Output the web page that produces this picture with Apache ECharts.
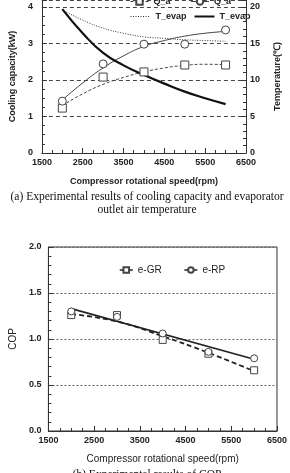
<!DOCTYPE html>
<html>
<head>
<meta charset="utf-8">
<title>Cooling capacity and COP</title>
<script src="https://cdn.jsdelivr.net/npm/echarts@6/dist/echarts.min.js"></script>
<style>
    html, body { margin: 0; padding: 0; width: 100%; height: 100%; background: #fff; overflow: hidden; }
    #chart { width: 290px; height: 473px; }
</style>
</head>
<body>
<div id="chart"></div>
<script type="text/javascript">
    // measured points (a)
    var capRpm = [2000, 3000, 4000, 5000, 6000];
    var capSquare = [1.23, 2.08, 2.22, 2.41, 2.41];
    var capCircle = [1.42, 2.44, 2.98, 2.98, 3.37];
    // fitted curves (a)
    var fitRpm = [2000, 2500, 3000, 3500, 4000, 4500, 5000, 5500, 6000];
    var capSquareFit = [1.30, 1.62, 1.88, 2.07, 2.22, 2.33, 2.40, 2.43, 2.42];
    var capCircleFit = [1.45, 1.92, 2.33, 2.66, 2.92, 3.08, 3.20, 3.28, 3.33];
    var tempDottedFit = [19.6, 18.2, 17.1, 16.4, 15.9, 15.7, 15.5, 15.4, 15.3];
    var tempSolidFit = [19.7, 16.4, 13.7, 12.0, 10.7, 9.5, 8.4, 7.5, 6.7];

    // COP (b)
    var copRpm = [2000, 3000, 4000, 5000, 6000];
    var copGR = [1.26, 1.26, 0.99, 0.84, 0.66];
    var copRP = [1.30, 1.24, 1.06, 0.86, 0.79];
    var copGRFit = [1.27, 1.19, 1.03, 0.85, 0.65];
    var copRPFitRpm = [2000, 6000];
    var copRPFit = [1.33, 0.78];

    var xTicks = { min: 1500, max: 6500, interval: 1000 };

    function pairs(xs, ys) {
        return xs.map(function (x, i) { return [x, ys[i]]; });
    }

    var tickFont = { fontFamily: 'Liberation Sans', fontSize: 9, fontWeight: 'bold', color: '#222' };
    var ink = '#444';

    function plain(v) { return String(v); }

    function valueAxis(extra, labelExtra) {
        var base = {
            type: 'value',
            axisLine: { show: true, lineStyle: { color: '#333', width: 1 } },
            axisTick: { show: true, inside: true, length: 5, lineStyle: { color: '#333' } },
            minorTick: { show: true, splitNumber: 4, length: 3, lineStyle: { color: '#333' } },
            axisLabel: Object.assign({ margin: 6, showMaxLabel: false, formatter: plain }, tickFont, labelExtra || {}),
            splitLine: { show: false }
        };
        return Object.assign(base, extra);
    }

    var chart = echarts.init(document.getElementById('chart'), null, { renderer: 'canvas' });

    var option = {
        animation: false,
        backgroundColor: '#fff',
        title: [
            {
                text: '(a) Experimental results of cooling capacity and evaporator\noutlet air temperature',
                left: 147, top: 190, textAlign: 'center', padding: 0,
                textStyle: { fontFamily: 'Liberation Serif', fontSize: 11.5, fontWeight: 'normal', lineHeight: 13, color: '#111' }
            },
            {
                text: '(b) Experimental results of COP',
                left: 147, top: 469, textAlign: 'center', padding: 0,
                textStyle: { fontFamily: 'Liberation Serif', fontSize: 11.5, fontWeight: 'normal', color: '#111' }
            }
        ],
        legend: [
            {
                left: 130, top: -3, padding: 0, itemWidth: 18, itemHeight: 8, itemGap: 20,
                textStyle: { fontFamily: 'Liberation Sans', fontSize: 9, fontWeight: 'bold', color: '#222' },
                data: [
                    { name: 'Q_a', lineStyle: { width: 1, type: [3, 2], color: ink } },
                    { name: 'Q_a ', lineStyle: { width: 1, type: 'solid', color: ink } }
                ]
            },
            {
                left: 130, top: 12, padding: 0, itemWidth: 20, itemHeight: 8, itemGap: 7,
                textStyle: { fontFamily: 'Liberation Sans', fontSize: 9, fontWeight: 'bold', color: '#222' },
                data: [
                    { name: 'T_evap', itemStyle: { opacity: 0 }, lineStyle: { width: 1, type: [1, 1.5], color: '#333' } },
                    { name: 'T_evap ', itemStyle: { opacity: 0 }, lineStyle: { width: 2, type: 'solid', color: '#111' } }
                ]
            },
            {
                left: 119, top: 265, padding: 0, itemWidth: 13, itemHeight: 7, itemGap: 22,
                textStyle: { fontFamily: 'Liberation Sans', fontSize: 10, color: '#222' },
                data: [
                    { name: 'e-GR', lineStyle: { width: 1.5, type: 'solid', color: '#222' } },
                    { name: 'e-RP', lineStyle: { width: 1.5, type: 'solid', color: '#222' } }
                ]
            }
        ],
        grid: [
            { left: 32, right: 31, top: 0, bottom: 320 },
            { left: 40, right: 13, top: 247, bottom: 42, show: true, borderColor: '#333', borderWidth: 1 }
        ],
        xAxis: [
            valueAxis(Object.assign({
                gridIndex: 0,
                name: 'Compressor rotational speed(rpm)', nameLocation: 'middle', nameGap: 24,
                nameTextStyle: { fontFamily: 'Liberation Sans', fontSize: 9, fontWeight: 'bold', color: '#222' }
            }, xTicks), { margin: 5, showMaxLabel: true }),
            valueAxis(Object.assign({
                gridIndex: 1,
                name: 'Compressor rotational speed(rpm)', nameLocation: 'middle', nameGap: 23,
                nameTextStyle: { fontFamily: 'Liberation Sans', fontSize: 10, color: '#222' }
            }, xTicks), { margin: 5, showMaxLabel: true })
        ],
        yAxis: [
            valueAxis({
                gridIndex: 0, min: 0, max: 4.19, interval: 1,
                name: 'Cooling capacity(kW)', nameLocation: 'middle', nameGap: 21, nameRotate: 90,
                nameTextStyle: { fontFamily: 'Liberation Sans', fontSize: 9, fontWeight: 'bold', color: '#222' },
                splitLine: { show: true, lineStyle: { color: '#444', width: 1, type: [4, 3] } }
            }, { margin: 9 }),
            valueAxis({
                gridIndex: 0, position: 'right', min: 0, max: 20.95, interval: 5,
                name: 'Temperature(\u2103)', nameLocation: 'middle', nameGap: 27, nameRotate: 90,
                nameTextStyle: { fontFamily: 'Liberation Sans', fontSize: 9, fontWeight: 'bold', color: '#222' },
                minorTick: { show: true, splitNumber: 5, length: 3, lineStyle: { color: '#333' } }
            }, { margin: 4 }),
            valueAxis({
                gridIndex: 1, min: 0, max: 2, interval: 0.5,
                name: 'COP', nameLocation: 'middle', nameGap: 29, nameRotate: 90,
                nameTextStyle: { fontFamily: 'Liberation Sans', fontSize: 10, color: '#222' },
                minorTick: { show: true, splitNumber: 5, length: 3, lineStyle: { color: '#333' } },
                splitLine: { show: true, lineStyle: { color: '#666', width: 1, type: [2, 2] } }
            }, { margin: 7, showMaxLabel: true, formatter: function (v) { return v.toFixed(1); } })
        ],
        series: [
            // (a) measured markers (listed first so the legend picks their symbols)
            {
                name: 'Q_a', type: 'line', xAxisIndex: 0, yAxisIndex: 0, symbol: 'rect', symbolSize: 8,
                data: pairs(capRpm, capSquare), lineStyle: { width: 0 },
                itemStyle: { color: '#fff', borderColor: ink, borderWidth: 1 }, z: 5
            },
            {
                name: 'Q_a ', type: 'line', xAxisIndex: 0, yAxisIndex: 0, symbol: 'circle', symbolSize: 8,
                data: pairs(capRpm, capCircle), lineStyle: { width: 0 },
                itemStyle: { color: '#fff', borderColor: ink, borderWidth: 1 }, z: 5
            },
            // (a) fitted curves
            {
                name: 'Q_a', type: 'line', xAxisIndex: 0, yAxisIndex: 0, smooth: true, symbol: 'none',
                data: pairs(fitRpm, capSquareFit), lineStyle: { color: ink, width: 1, type: [3, 2] }, itemStyle: { color: ink }
            },
            {
                name: 'Q_a ', type: 'line', xAxisIndex: 0, yAxisIndex: 0, smooth: true, symbol: 'none',
                data: pairs(fitRpm, capCircleFit), lineStyle: { color: ink, width: 1 }, itemStyle: { color: ink }
            },
            {
                name: 'T_evap', type: 'line', xAxisIndex: 0, yAxisIndex: 1, smooth: true, symbol: 'none',
                data: pairs(fitRpm, tempDottedFit), lineStyle: { color: '#333', width: 1, type: [1, 1.5] }, itemStyle: { color: '#333' }
            },
            {
                name: 'T_evap ', type: 'line', xAxisIndex: 0, yAxisIndex: 1, smooth: true, symbol: 'none',
                data: pairs(fitRpm, tempSolidFit), lineStyle: { color: '#111', width: 2.2 }, itemStyle: { color: '#111' }
            },
            // (b) measured markers
            {
                name: 'e-GR', type: 'line', xAxisIndex: 1, yAxisIndex: 2, symbol: 'rect', symbolSize: 7,
                data: pairs(copRpm, copGR), lineStyle: { width: 0 },
                itemStyle: { color: '#fff', borderColor: ink, borderWidth: 1 }, z: 5
            },
            {
                name: 'e-RP', type: 'line', xAxisIndex: 1, yAxisIndex: 2, symbol: 'circle', symbolSize: 7,
                data: pairs(copRpm, copRP), lineStyle: { width: 0 },
                itemStyle: { color: '#fff', borderColor: ink, borderWidth: 1 }, z: 5
            },
            // (b) fitted lines
            {
                name: 'e-GR', type: 'line', xAxisIndex: 1, yAxisIndex: 2, smooth: true, symbol: 'none',
                data: pairs(copRpm, copGRFit), lineStyle: { color: '#222', width: 1.8, type: [5, 3] }, itemStyle: { color: '#222' }
            },
            {
                name: 'e-RP', type: 'line', xAxisIndex: 1, yAxisIndex: 2, symbol: 'none',
                data: pairs(copRPFitRpm, copRPFit), lineStyle: { color: '#222', width: 1.6 }, itemStyle: { color: '#222' }
            }
        ]
    };

    chart.setOption(option);
</script>
</body>
</html>
